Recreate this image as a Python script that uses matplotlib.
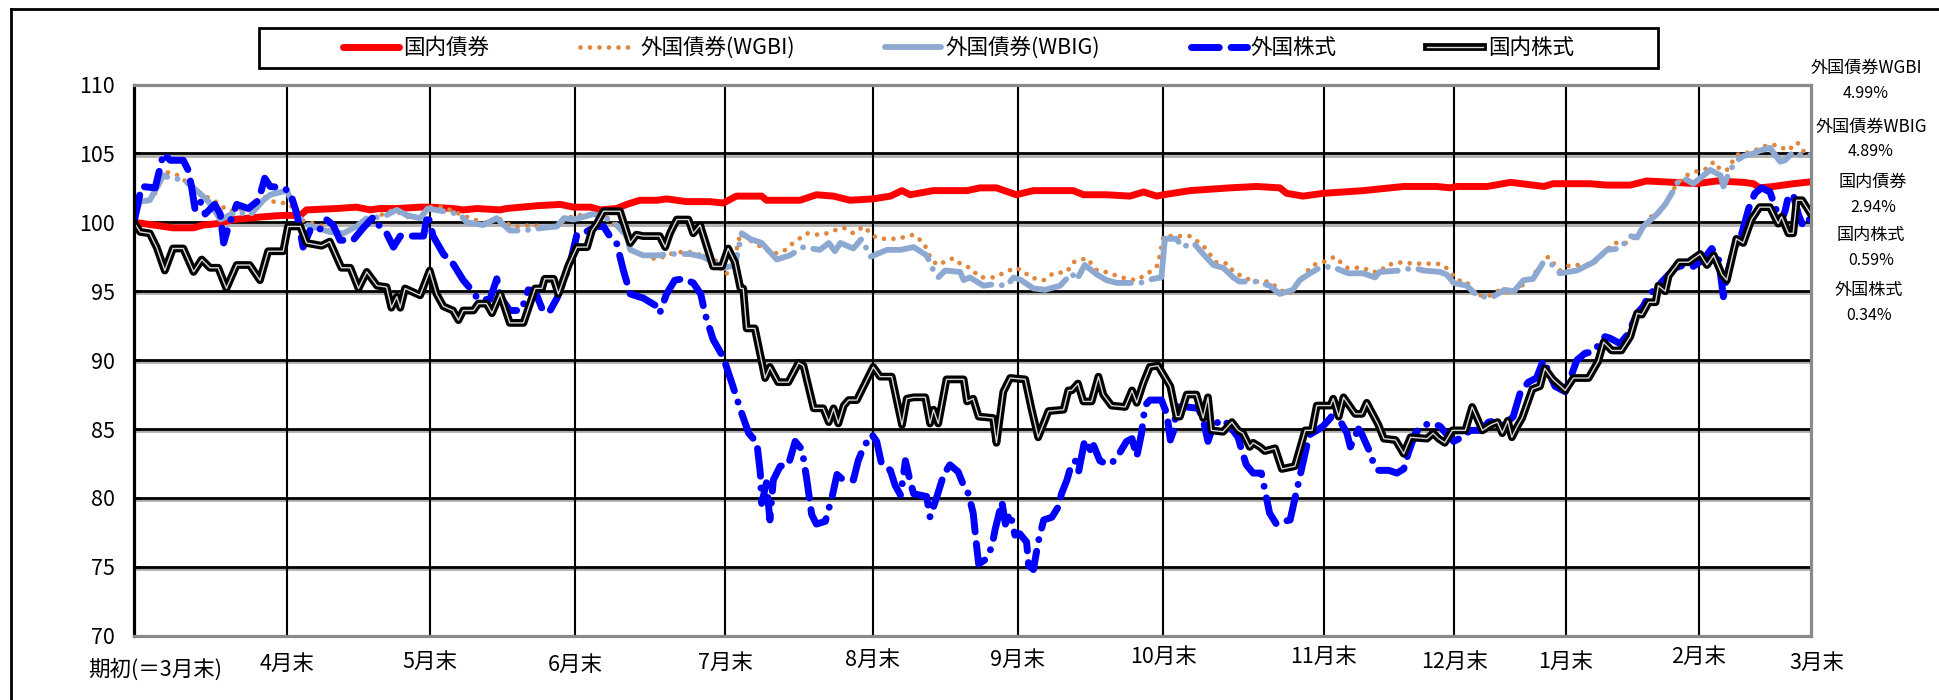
import matplotlib
matplotlib.use('Agg')
import matplotlib.pyplot as plt
from matplotlib import patheffects as pe
from matplotlib.lines import Line2D
from matplotlib.patches import Rectangle

plt.rcParams['font.family'] = ['Noto Sans CJK JP', 'DejaVu Sans']

# ---------------- data ----------------
series_names = ['国内債券', '外国債券(WGBI)', '外国債券(WBIG)', '外国株式', '国内株式']
month_labels = ['期初(＝3月末)', '4月末', '5月末', '6月末', '7月末', '8月末', '9月末',
                '10月末', '11月末', '12月末', '1月末', '2月末', '3月末']
month_pos = [0, 22.3, 43.3, 64.5, 86.4, 107.9, 129.1, 150.4, 173.8, 192.9, 209.2, 228.6, 245]
y_ticks = [70, 75, 80, 85, 90, 95, 100, 105, 110]
end_names = ['外国債券WGBI', '外国債券WBIG', '国内債券', '国内株式', '外国株式']
end_returns = ['4.99%', '4.89%', '2.94%', '0.59%', '0.34%']

dbond_x = [0, 4.3, 5.7, 8.7, 10.1, 12.1, 14.5, 18.9, 21.8, 24.3, 25.2, 29.6, 32.5, 34.5, 35.9,
           38.4, 41.8, 43.2, 46.6, 48.1, 50.1, 53.5, 54.4, 58.8, 62.3, 64.2, 66.7, 68.1, 70.5,
           72.0, 73.9, 76.4, 77.8, 80.7, 84.1, 86.1, 88.0, 91.7, 92.4, 97.3, 99.7, 102.2, 104.6,
           108.0, 110.5, 112.2, 113.4, 116.8, 121.7, 123.6, 126.0, 128.9, 131.4, 137.2, 138.7,
           142.1, 145.5, 147.5, 149.4, 150.4, 154.3, 160.1, 164.0, 167.4, 168.4, 170.8, 173.7,
           179.6, 185.5, 190.3, 192.3, 193.3, 197.7, 201.1, 206.0, 207.3, 212.7, 215.2, 218.6,
           221.0, 224.9, 228.3, 231.3, 235.1, 236.6, 237.5, 239.5, 242.4, 245.0]
dbond_y = [100.0, 99.7, 99.6, 99.6, 99.8, 99.9, 100.2, 100.4, 100.5, 100.5, 100.9, 101.0, 101.1,
           100.9, 101.0, 101.0, 101.1, 101.1, 101.0, 100.9, 101.0, 100.9, 101.0, 101.2, 101.3,
           101.1, 101.1, 100.9, 101.0, 101.3, 101.6, 101.6, 101.7, 101.5, 101.5, 101.4, 101.9,
           101.9, 101.6, 101.6, 102.0, 101.9, 101.6, 101.7, 101.9, 102.3, 102.0, 102.3, 102.3,
           102.5, 102.5, 102.0, 102.3, 102.3, 102.0, 102.0, 101.9, 102.2, 101.9, 102.0, 102.3,
           102.5, 102.6, 102.5, 102.1, 101.9, 102.1, 102.3, 102.6, 102.6, 102.5, 102.6, 102.6,
           102.9, 102.6, 102.8, 102.8, 102.7, 102.7, 103.0, 102.9, 102.8, 103.0, 102.9, 102.8,
           102.5, 102.6, 102.8, 102.94]

wgbi_x = [0, 0.8, 2.0, 3.3, 4.3, 6.5, 7.2, 9.2, 11.1, 12.3, 13.5, 15.0, 16.5, 18.9, 20.4, 21.8,
          22.8, 24.3, 26.2, 27.7, 29.6, 31.1, 33.5, 35.9, 37.9, 39.9, 41.8, 43.2, 45.2, 47.6,
          49.6, 52.0, 53.0, 54.4, 56.0, 58.4, 59.8, 61.8, 63.2, 64.7, 66.7, 68.6, 70.0, 71.5,
          72.5, 74.4, 76.4, 78.3, 80.7, 83.1, 84.6, 86.3, 87.3, 88.6, 90.0, 92.0, 93.4, 94.9,
          96.3, 98.3, 99.7, 101.2, 102.2, 103.7, 105.1, 106.6, 108.0, 109.2, 111.5, 113.9, 115.4,
          116.3, 117.3, 118.3, 119.7, 120.7, 122.1, 123.6, 125.5, 127.0, 128.7, 129.9, 130.9,
          132.9, 134.3, 136.3, 137.2, 139.2, 140.7, 141.9, 143.1, 145.0, 146.5, 148.4, 149.6,
          150.4, 154.3, 156.2, 158.1, 159.8, 160.6, 163.5, 165.9, 167.4, 168.8, 170.3, 172.2,
          173.7, 175.4, 177.2, 179.6, 180.8, 182.0, 183.0, 185.2, 186.9, 190.3, 191.3, 192.3,
          193.3, 194.7, 195.7, 197.7, 199.6, 201.3, 202.5, 204.0, 205.4, 206.6, 208.3, 209.8,
          211.8, 213.2, 214.7, 216.1, 218.1, 220.0, 221.5, 222.7, 224.4, 225.4, 226.8, 228.3,
          229.8, 230.8, 231.8, 232.7, 234.2, 236.2, 238.6, 240.1, 241.6, 243.0, 244.0, 245.0]
wgbi_y = [100.0, 101.3, 101.6, 102.2, 103.7, 103.4, 103.1, 102.3, 101.7, 101.4, 100.9, 100.8,
          101.0, 101.9, 101.5, 101.4, 101.3, 100.2, 99.9, 99.7, 99.2, 99.3, 99.9, 100.5, 100.9,
          100.4, 100.3, 101.1, 101.1, 100.6, 100.2, 99.9, 100.4, 99.9, 99.7, 99.8, 99.6, 99.7,
          100.3, 100.5, 100.6, 100.6, 99.9, 99.4, 98.0, 97.6, 97.3, 97.7, 97.9, 97.6, 97.5, 96.2,
          96.5, 99.2, 98.7, 98.1, 97.7, 97.9, 98.5, 99.2, 99.1, 99.2, 99.4, 99.6, 99.2, 99.7,
          99.0, 98.8, 98.8, 99.1, 98.5, 97.5, 96.9, 97.1, 97.4, 97.0, 96.7, 96.0, 96.0, 96.3,
          96.7, 96.5, 96.0, 95.8, 96.3, 96.4, 97.1, 97.4, 96.5, 96.4, 96.2, 95.9, 95.8, 96.4,
          96.9, 99.0, 99.0, 98.3, 97.1, 97.0, 96.4, 95.7, 95.7, 95.1, 94.8, 95.8, 96.9, 97.1,
          97.5, 96.7, 96.7, 96.4, 96.4, 96.9, 97.1, 97.0, 97.0, 96.9, 96.4, 95.8, 95.7, 94.8,
          94.6, 95.1, 94.8, 95.3, 95.9, 96.8, 97.5, 96.5, 96.9, 96.9, 97.0, 97.7, 98.5, 98.5,
          99.2, 100.4, 100.6, 101.9, 102.8, 103.4, 103.7, 103.9, 104.4, 103.8, 103.8, 104.9,
          105.1, 105.6, 105.6, 105.2, 105.8, 105.1, 104.99]

wbig_x = [0, 0.8, 2.3, 4.3, 5.3, 7.2, 8.7, 9.6, 10.9, 12.6, 13.5, 15.0, 16.9, 18.9, 19.9, 22.3,
          23.3, 24.7, 26.7, 28.6, 30.6, 32.5, 34.0, 36.4, 38.4, 39.9, 41.8, 42.9, 45.2, 47.6,
          48.6, 51.0, 53.0, 54.9, 56.9, 59.8, 61.8, 62.8, 64.2, 65.7, 67.1, 68.6, 70.5, 72.0,
          72.5, 74.4, 76.4, 78.8, 81.2, 83.1, 84.6, 86.3, 87.8, 88.8, 90.0, 91.7, 93.9, 95.8,
          97.8, 100.2, 101.5, 102.4, 103.2, 105.1, 106.3, 107.6, 110.0, 112.0, 113.9, 115.8,
          116.8, 117.5, 118.5, 120.7, 121.2, 122.1, 124.1, 125.5, 127.5, 128.5, 129.6, 131.4,
          133.1, 135.3, 137.0, 137.7, 138.9, 140.7, 142.1, 143.6, 147.0, 148.9, 150.1, 150.6,
          152.3, 153.1, 154.8, 156.2, 157.7, 159.1, 160.6, 161.5, 164.0, 165.9, 167.4, 169.3,
          170.3, 171.8, 173.2, 175.2, 175.9, 177.4, 179.6, 181.3, 182.0, 185.0, 186.9, 188.4,
          190.8, 191.8, 192.8, 194.7, 196.2, 198.2, 200.2, 201.6, 203.0, 204.4, 205.9, 207.3,
          208.3, 210.8, 213.2, 215.2, 217.1, 218.6, 219.6, 220.5, 222.5, 223.7, 224.9, 225.7,
          226.8, 227.8, 229.3, 230.3, 231.8, 232.2, 233.2, 234.2, 235.1, 236.6, 237.5, 239.0,
          240.5, 241.2, 242.4, 243.9, 245.0]
wbig_y = [100.0, 101.5, 101.6, 103.4, 103.2, 103.1, 102.5, 102.1, 101.5, 100.2, 100.4, 100.8,
          100.5, 101.6, 102.0, 102.3, 101.3, 99.9, 99.6, 99.3, 99.2, 99.7, 100.3, 100.4, 100.9,
          100.5, 100.3, 101.0, 100.8, 100.6, 100.0, 99.8, 100.3, 99.4, 99.4, 99.6, 99.7, 100.3,
          100.2, 100.4, 100.6, 100.4, 99.8, 99.0, 98.0, 97.6, 97.6, 97.7, 97.7, 97.5, 97.1, 96.7,
          96.9, 99.2, 98.8, 98.5, 97.3, 97.6, 98.2, 98.0, 98.5, 97.9, 98.5, 98.1, 98.8, 97.5,
          98.0, 98.0, 98.2, 97.6, 96.5, 96.0, 96.5, 96.4, 95.8, 96.0, 95.4, 95.5, 95.4, 96.0,
          95.8, 95.2, 95.1, 95.4, 96.3, 95.8, 96.9, 96.2, 95.8, 95.6, 95.6, 95.9, 96.0, 98.8,
          98.8, 98.2, 98.5, 97.7, 96.9, 96.7, 96.0, 95.7, 95.7, 95.4, 94.8, 95.1, 95.8, 96.3,
          96.7, 96.8, 96.6, 96.3, 96.3, 96.0, 96.4, 96.5, 96.7, 96.5, 96.4, 96.2, 95.6, 95.4,
          94.7, 94.5, 95.1, 95.0, 95.8, 95.9, 97.1, 96.9, 96.3, 96.5, 97.1, 98.0, 98.1, 99.0,
          98.9, 99.7, 100.6, 101.3, 102.3, 103.1, 103.1, 102.8, 103.4, 103.8, 103.4, 102.6,
          103.8, 104.5, 104.8, 105.0, 105.2, 105.4, 104.4, 104.5, 105.1, 104.8, 104.89]

fstock_x = [0, 1.1, 3.1, 4.3, 5.3, 7.2, 7.9, 8.4, 8.9, 9.6, 10.4, 11.8, 12.6, 13.1, 13.8, 15.0,
            16.7, 18.2, 19.1, 19.9, 21.8, 22.8, 23.8, 24.7, 25.7, 26.9, 28.1, 29.1, 30.1, 32.0,
            33.5, 35.0, 35.9, 36.9, 37.9, 38.9, 40.8, 42.3, 42.9, 43.7, 45.2, 46.6, 48.1, 49.3,
            50.3, 52.0, 53.0, 53.5, 54.9, 56.6, 57.6, 58.6, 59.8, 60.8, 61.8, 62.8, 63.7, 64.7,
            66.0, 67.6, 68.6, 69.5, 70.5, 71.5, 72.5, 74.4, 76.4, 76.8, 77.8, 79.0, 80.3, 81.7,
            82.8, 83.4, 84.6, 86.1, 87.3, 88.6, 89.8, 91.0, 91.5, 91.7, 92.4, 92.9, 93.4, 94.4,
            95.6, 96.6, 97.6, 98.3, 99.0, 99.7, 101.0, 102.0, 102.7, 103.4, 105.1, 105.8, 106.6,
            107.8, 108.5, 109.2, 110.5, 111.2, 112.0, 112.7, 113.4, 113.9, 115.8, 116.3, 117.3,
            118.3, 119.2, 120.4, 121.2, 121.9, 122.6, 123.1, 123.4, 124.3, 125.3, 125.8, 126.8,
            127.3, 128.0, 128.7, 129.4, 130.4, 130.7, 131.4, 132.1, 132.9, 134.1, 135.1, 135.5,
            136.3, 136.7, 137.5, 138.0, 138.9, 139.7, 140.2, 141.1, 141.9, 142.8, 143.8, 145.0,
            145.8, 146.5, 147.2, 147.7, 148.4, 150.1, 150.9, 151.4, 151.9, 152.3, 153.8, 155.5,
            156.2, 156.9, 157.7, 159.1, 160.1, 161.3, 161.8, 162.5, 163.5, 164.7, 165.2, 165.9,
            166.9, 168.1, 168.9, 170.3, 171.3, 171.8, 172.8, 173.7, 174.8, 175.5, 176.2, 177.2,
            177.7, 178.9, 179.4, 180.4, 181.1, 181.8, 183.3, 184.5, 185.5, 186.2, 187.2, 188.4,
            189.8, 190.8, 191.8, 192.8, 194.0, 195.2, 196.7, 197.9, 199.1, 200.0, 201.5, 202.5,
            203.7, 204.9, 205.9, 207.6, 209.1, 210.8, 212.0, 213.2, 214.9, 215.6, 217.1, 218.3,
            219.6, 220.5, 221.3, 222.7, 224.0, 225.2, 226.4, 227.8, 229.3, 230.5, 231.5, 232.2,
            232.7, 233.7, 234.9, 235.9, 236.8, 237.8, 239.0, 239.8, 240.5, 241.2, 241.7, 242.4,
            243.2, 243.9, 245.0]
fstock_y = [100.0, 102.6, 102.5, 105.0, 104.5, 104.5, 103.8, 102.6, 101.0, 101.6, 100.6, 101.3,
            100.6, 98.5, 99.7, 101.3, 101.0, 101.6, 103.2, 102.6, 102.5, 102.2, 100.6, 98.2, 99.4,
            99.3, 100.2, 99.8, 98.7, 98.7, 99.6, 100.4, 99.7, 99.2, 98.2, 99.0, 99.0, 99.0, 100.6,
            99.0, 97.7, 97.0, 95.8, 95.1, 94.4, 94.4, 95.9, 94.6, 93.6, 93.6, 95.1, 95.0, 93.5,
            93.6, 94.5, 95.8, 97.0, 99.1, 99.3, 99.7, 99.7, 99.0, 98.5, 96.5, 94.8, 94.5, 93.9,
            93.4, 94.8, 95.8, 95.9, 95.6, 94.8, 93.4, 91.5, 90.2, 88.4, 86.4, 84.7, 84.0, 81.8,
            79.6, 81.1, 78.4, 81.3, 82.3, 82.4, 84.1, 83.5, 81.3, 78.8, 78.1, 78.3, 80.1, 81.7,
            81.4, 81.3, 82.7, 83.7, 84.6, 84.1, 82.5, 82.0, 80.9, 80.2, 82.7, 81.2, 80.3, 80.1,
            78.6, 80.1, 81.7, 82.4, 81.9, 80.9, 80.3, 78.9, 76.5, 75.2, 75.5, 76.4, 77.7, 79.7,
            78.1, 78.9, 77.3, 77.4, 76.8, 75.1, 74.8, 76.8, 78.4, 78.6, 79.4, 80.3, 81.3, 82.0,
            82.7, 81.9, 84.2, 83.5, 83.8, 82.7, 82.5, 82.5, 83.1, 84.1, 84.3, 83.0, 84.7, 86.7,
            87.1, 87.1, 86.1, 84.2, 84.9, 86.6, 86.6, 86.5, 85.7, 84.1, 85.3, 85.7, 85.2, 84.4,
            83.5, 82.4, 81.8, 81.8, 80.6, 78.9, 78.1, 78.3, 78.4, 81.5, 83.7, 84.6, 84.9, 85.2,
            85.8, 86.4, 85.6, 84.7, 83.7, 85.0, 84.6, 83.5, 82.5, 82.0, 82.0, 81.8, 82.1, 83.3,
            84.7, 85.3, 85.4, 85.2, 84.6, 84.1, 84.4, 84.9, 84.9, 85.5, 85.6, 85.2, 85.9, 87.6,
            88.4, 88.7, 90.0, 88.1, 87.7, 90.0, 90.5, 90.6, 91.7, 91.6, 91.2, 91.9, 93.4, 93.9,
            94.7, 95.4, 96.1, 96.7, 96.9, 96.8, 97.3, 98.1, 97.3, 94.6, 96.1, 98.0, 99.2, 101.0,
            102.1, 102.5, 102.2, 101.1, 99.9, 100.8, 101.9, 102.0, 100.5, 99.7, 100.34]

dstock_x = [0, 0.9, 2.3, 3.3, 4.5, 5.7, 7.2, 8.7, 9.9, 11.1, 12.3, 13.5, 15.0, 16.9, 18.4, 19.6,
            21.8, 22.5, 24.3, 25.2, 27.4, 28.6, 30.3, 31.6, 32.8, 34.0, 35.5, 36.9, 37.6, 38.4,
            38.9, 39.6, 41.8, 43.2, 44.2, 45.2, 46.6, 47.4, 48.1, 49.6, 50.3, 51.5, 52.3, 53.5,
            54.9, 56.9, 58.6, 59.6, 60.0, 61.3, 62.0, 63.5, 64.7, 66.2, 66.9, 67.6, 68.6, 71.0,
            72.5, 73.4, 74.4, 76.8, 77.6, 78.3, 79.3, 81.0, 81.7, 82.7, 84.6, 85.9, 86.8, 87.8,
            88.6, 89.0, 89.5, 90.7, 92.2, 92.9, 94.1, 95.6, 97.1, 97.8, 99.3, 100.7, 101.5, 102.2,
            102.9, 103.7, 104.4, 105.6, 108.0, 109.0, 110.7, 112.2, 112.9, 113.9, 115.6, 116.3,
            116.8, 117.5, 118.7, 121.2, 121.7, 122.6, 123.4, 125.5, 126.0, 127.0, 128.0, 130.2,
            131.1, 132.1, 133.6, 135.8, 136.5, 137.0, 137.9, 138.7, 139.9, 140.9, 141.6, 142.8,
            144.8, 145.8, 146.5, 147.5, 148.4, 149.6, 151.4, 152.3, 152.8, 153.8, 155.2, 156.2,
            156.9, 157.4, 159.1, 160.4, 161.3, 162.0, 163.0, 163.5, 164.5, 165.2, 166.7, 167.7,
            169.6, 171.1, 172.1, 172.8, 174.8, 175.2, 176.0, 176.7, 178.4, 179.4, 180.1, 181.8,
            182.6, 184.3, 185.5, 186.5, 188.9, 189.8, 190.6, 191.5, 192.6, 194.5, 195.5, 197.0,
            198.2, 199.2, 199.9, 200.7, 201.3, 202.1, 202.8, 204.3, 205.4, 206.1, 207.3, 209.1,
            210.3, 212.5, 213.9, 214.7, 215.9, 217.3, 218.6, 219.6, 220.3, 221.3, 222.3, 222.7,
            223.7, 224.2, 225.7, 227.1, 228.8, 229.8, 230.8, 232.0, 232.7, 234.1, 235.1, 236.3,
            237.5, 239.0, 240.2, 240.7, 241.7, 242.4, 242.9, 243.7, 245.0]
dstock_y = [100.0, 99.3, 99.2, 98.2, 96.5, 98.1, 98.1, 96.4, 97.3, 96.7, 96.7, 95.2, 96.9, 96.9,
            95.8, 97.9, 97.9, 99.7, 99.7, 98.5, 98.3, 98.6, 96.7, 96.7, 95.2, 96.4, 95.4, 95.3,
            93.8, 94.6, 93.8, 95.2, 94.7, 96.5, 94.8, 93.9, 93.6, 92.9, 93.6, 93.6, 94.1, 94.1,
            93.4, 94.8, 92.7, 92.7, 95.2, 95.2, 95.9, 95.9, 94.8, 96.9, 98.2, 98.2, 99.4, 99.9,
            100.8, 100.8, 98.5, 99.1, 99.0, 99.0, 98.2, 99.2, 100.2, 100.2, 99.2, 99.8, 96.8, 96.8,
            98.1, 97.1, 95.2, 95.2, 92.3, 92.3, 88.7, 89.5, 88.4, 88.4, 89.8, 89.6, 86.5, 86.5,
            85.5, 86.5, 85.4, 86.7, 87.1, 87.1, 89.5, 88.8, 88.8, 85.3, 87.2, 87.3, 87.3, 85.4,
            86.4, 85.4, 88.6, 88.6, 87.0, 87.2, 85.9, 85.8, 84.0, 87.7, 88.7, 88.6, 86.5, 84.4,
            86.3, 86.4, 87.8, 87.8, 88.3, 87.0, 87.0, 88.8, 87.5, 86.7, 86.6, 87.8, 86.9, 88.4,
            89.5, 89.6, 88.1, 85.9, 85.9, 87.5, 87.5, 85.8, 87.3, 84.9, 84.8, 85.5, 84.9, 84.7,
            83.7, 84.0, 83.7, 83.4, 83.6, 82.1, 82.3, 84.9, 84.9, 86.7, 86.7, 87.2, 85.9, 87.3,
            86.1, 86.1, 86.9, 85.3, 84.3, 84.2, 83.2, 84.4, 84.3, 84.7, 84.3, 84.0, 84.9, 84.9,
            86.6, 84.9, 85.3, 85.5, 84.7, 85.6, 84.4, 85.2, 85.8, 87.9, 88.1, 89.4, 88.6, 87.8,
            88.7, 88.7, 89.9, 91.3, 90.7, 90.7, 91.7, 93.4, 93.3, 94.2, 94.2, 95.4, 95.0, 96.1,
            97.1, 97.1, 97.7, 96.9, 97.6, 96.2, 95.8, 98.8, 98.5, 100.2, 101.1, 101.1, 99.9, 100.4,
            99.2, 99.2, 101.6, 101.6, 100.59]

# ---------------- figure ----------------
W, H = 1939, 700
fig = plt.figure(figsize=(W / 100, H / 100), dpi=100)
ax = fig.add_axes([134 / W, 1 - 635.7 / H, (1811 - 134) / W, (635.7 - 84.5) / H])
ax.set_xlim(month_pos[0], month_pos[-1])
ax.set_ylim(y_ticks[0], y_ticks[-1])

# grid
for v in y_ticks[1:-1]:
    ax.axhline(v, color='black', lw=2.0, zorder=1,
               path_effects=[pe.SimpleLineShadow(offset=(0, -1.6), shadow_color='#9a9a9a', alpha=0.8),
                             pe.Normal()])
for p in month_pos[1:-1]:
    ax.axvline(p, color='black', lw=1.5, zorder=1)

# series
l_db, = ax.plot(dbond_x, dbond_y, color='#FF0000', lw=5.0, solid_capstyle='round', zorder=3)
l_wg, = ax.plot(wgbi_x, wgbi_y, color='#E0873F', lw=3.4, linestyle=(0, (0.01, 2.0)),
                dash_capstyle='round', zorder=4)
l_wb, = ax.plot(wbig_x, wbig_y, color='#8EA9D1', lw=4.2, linestyle=(0, (11.0, 1.8, 0.01, 1.8)),
                dash_capstyle='round', zorder=5)
l_fs, = ax.plot(fstock_x, fstock_y, color='#0000FF', lw=5.0,
                linestyle=(0, (4.0, 1.7, 4.0, 1.7, 0.01, 1.7)), dash_capstyle='round', zorder=6)
l_ds, = ax.plot(dstock_x, dstock_y, color='#d8d8d8', lw=1.0, zorder=7,
                path_effects=[pe.Stroke(linewidth=5.6, foreground='black'), pe.Normal()])

# spines
for side in ['top', 'right', 'bottom']:
    ax.spines[side].set_color('#8a8a8a')
    ax.spines[side].set_linewidth(2.3)
ax.spines['left'].set_color('black')
ax.spines['left'].set_linewidth(2.3)
for s in ax.spines.values():
    s.set_zorder(8)

ax.set_yticks(y_ticks)
ax.set_yticklabels([str(v) for v in y_ticks], fontsize=15.5)
ax.tick_params(axis='y', direction='in', length=4, width=2, pad=14, colors='black')
ax.set_xticks([])

# x labels
label_dy = [34, 28, 26, 29, 27, 24, 24, 21, 21, 26, 26, 21, 27]
label_dx = [21, 0, 0, 0, 0, 0, 0, 0, 0, 0, 0, 0, 6]
for lab, p, dy, dx in zip(month_labels, month_pos, label_dy, label_dx):
    ax.annotate(lab, xy=(p, 0), xycoords=('data', 'axes fraction'),
                xytext=(dx, -dy), textcoords='offset pixels',
                ha='center', va='center', fontsize=15.5, annotation_clip=False)

# legend with separate frame
fig.patches.append(Rectangle((259 / W, 1 - 68 / H), (1658 - 259) / W, 40 / H,
                             transform=fig.transFigure, fill=False, edgecolor='black', lw=2.0))
leg = fig.legend([l_db, l_wg, l_wb, l_fs, l_ds], series_names, loc='center',
                 bbox_to_anchor=(958.5 / W, 1 - 48 / H), ncol=5, frameon=False,
                 fontsize=15.5, handlelength=2.6, handletextpad=0.2, columnspacing=4.2,
                 borderpad=0.2)

# right-hand annotations
name_y = [68, 127, 182, 235, 290]
ret_y = [94, 152, 207, 261, 316]
name_x = [1866, 1871, 1873, 1871, 1869]
for nm, rt, yn, yr, xc in zip(end_names, end_returns, name_y, ret_y, name_x):
    fig.text(xc / W, 1 - yn / H, nm, ha='center', va='center', fontsize=12.3)
    fig.text(xc / W, 1 - yr / H, rt, ha='center', va='center', fontsize=11.5)

# outer frame (cropped on right/bottom)
fig.add_artist(Line2D([11 / W, 1.0], [1 - 9 / H, 1 - 9 / H], transform=fig.transFigure,
                      color='black', lw=2.0))
fig.add_artist(Line2D([11 / W, 11 / W], [0.0, 1 - 9 / H], transform=fig.transFigure,
                      color='black', lw=2.0))

fig.savefig('out.png', dpi=100)
